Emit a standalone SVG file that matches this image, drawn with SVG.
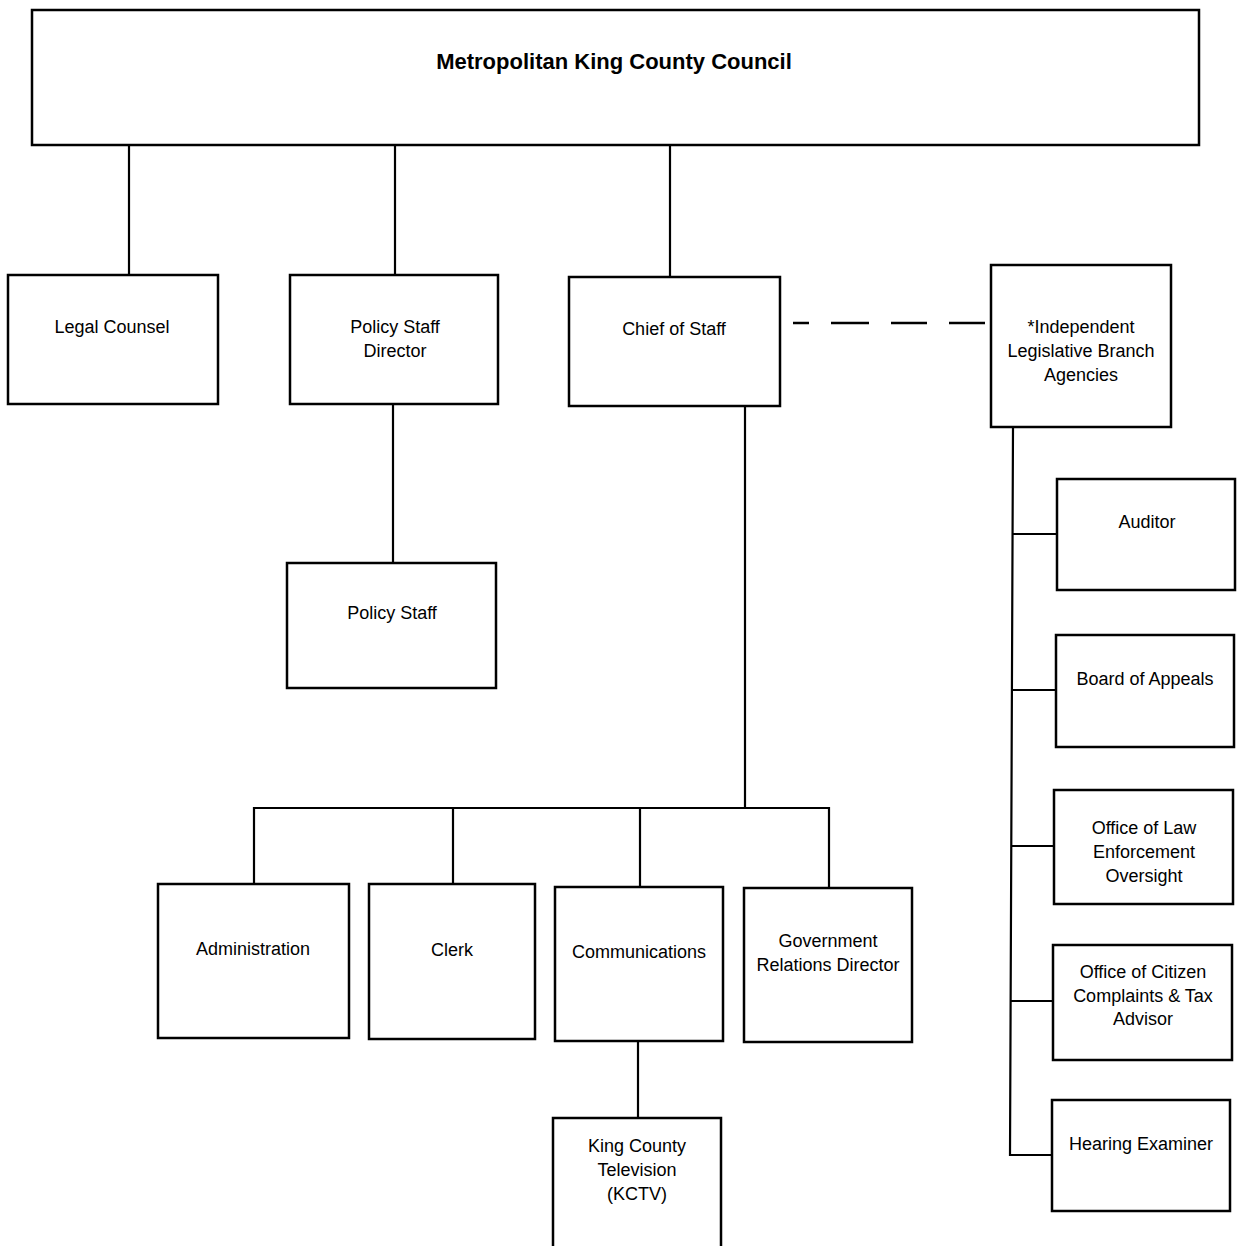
<svg xmlns="http://www.w3.org/2000/svg" width="1238" height="1246" viewBox="0 0 1238 1246">
<style>
.box{fill:#fff;stroke:#000;stroke-width:2.5}
.ln{fill:none;stroke:#000;stroke-width:2.2}
.dash{fill:none;stroke:#000;stroke-width:2.5;stroke-dasharray:16,22,38,22,36,22,36,22}
text{font-family:"Liberation Sans",Arial,sans-serif;font-size:18px;text-anchor:middle;fill:#000}
.title{font-size:22px;font-weight:bold}
</style>
<rect width="1238" height="1246" fill="#fff"/>
<g id="connectors">
<line class="ln" x1="129" y1="144" x2="129" y2="275"/>
<line class="ln" x1="395" y1="144" x2="395" y2="275"/>
<line class="ln" x1="670" y1="144" x2="670" y2="277"/>
<line class="dash" x1="793" y1="323" x2="990" y2="323"/>
<line class="ln" x1="393" y1="404" x2="393" y2="563"/>
<line class="ln" x1="745" y1="406" x2="745" y2="808"/>
<polyline class="ln" points="254,884 254,808 829,808 829,888"/>
<line class="ln" x1="453" y1="808" x2="453" y2="884"/>
<line class="ln" x1="640" y1="808" x2="640" y2="887"/>
<line class="ln" x1="638" y1="1041" x2="638" y2="1118"/>
<polyline class="ln" points="1013,427 1010,1155 1052,1155"/>
<line class="ln" x1="1013" y1="534" x2="1057" y2="534"/>
<line class="ln" x1="1012" y1="690" x2="1056" y2="690"/>
<line class="ln" x1="1012" y1="846" x2="1054" y2="846"/>
<line class="ln" x1="1011" y1="1001" x2="1053" y2="1001"/>
</g>
<g id="council"><rect class="box" x="32" y="10" width="1167" height="135"/><text class="title" x="614" y="69">Metropolitan King County Council</text></g>
<g id="legal"><rect class="box" x="8" y="275" width="210" height="129"/><text x="112" y="333">Legal Counsel</text></g>
<g id="policy-director"><rect class="box" x="290" y="275" width="208" height="129"/><text x="395" y="333">Policy Staff</text><text x="395" y="357">Director</text></g>
<g id="chief"><rect class="box" x="569" y="277" width="211" height="129"/><text x="674" y="335">Chief of Staff</text></g>
<g id="independent"><rect class="box" x="991" y="265" width="180" height="162"/><text x="1081" y="333">*Independent</text><text x="1081" y="357">Legislative Branch</text><text x="1081" y="381">Agencies</text></g>
<g id="policy-staff"><rect class="box" x="287" y="563" width="209" height="125"/><text x="392" y="619">Policy Staff</text></g>
<g id="administration"><rect class="box" x="158" y="884" width="191" height="154"/><text x="253" y="955">Administration</text></g>
<g id="clerk"><rect class="box" x="369" y="884" width="166" height="155"/><text x="452" y="956">Clerk</text></g>
<g id="communications"><rect class="box" x="555" y="887" width="168" height="154"/><text x="639" y="958">Communications</text></g>
<g id="gov-relations"><rect class="box" x="744" y="888" width="168" height="154"/><text x="828" y="947">Government</text><text x="828" y="971">Relations Director</text></g>
<g id="kctv"><rect class="box" x="553" y="1118" width="168" height="130"/><text x="637" y="1152">King County</text><text x="637" y="1176">Television</text><text x="637" y="1200">(KCTV)</text></g>
<g id="auditor"><rect class="box" x="1057" y="479" width="178" height="111"/><text x="1147" y="528">Auditor</text></g>
<g id="appeals"><rect class="box" x="1056" y="635" width="178" height="112"/><text x="1145" y="685">Board of Appeals</text></g>
<g id="oleo"><rect class="box" x="1054" y="790" width="179" height="114"/><text x="1144" y="834">Office of Law</text><text x="1144" y="858">Enforcement</text><text x="1144" y="882">Oversight</text></g>
<g id="citizen"><rect class="box" x="1053" y="945" width="179" height="115"/><text x="1143" y="978">Office of Citizen</text><text x="1143" y="1002">Complaints &amp; Tax</text><text x="1143" y="1025">Advisor</text></g>
<g id="hearing"><rect class="box" x="1052" y="1100" width="178" height="111"/><text x="1141" y="1150">Hearing Examiner</text></g>
</svg>
